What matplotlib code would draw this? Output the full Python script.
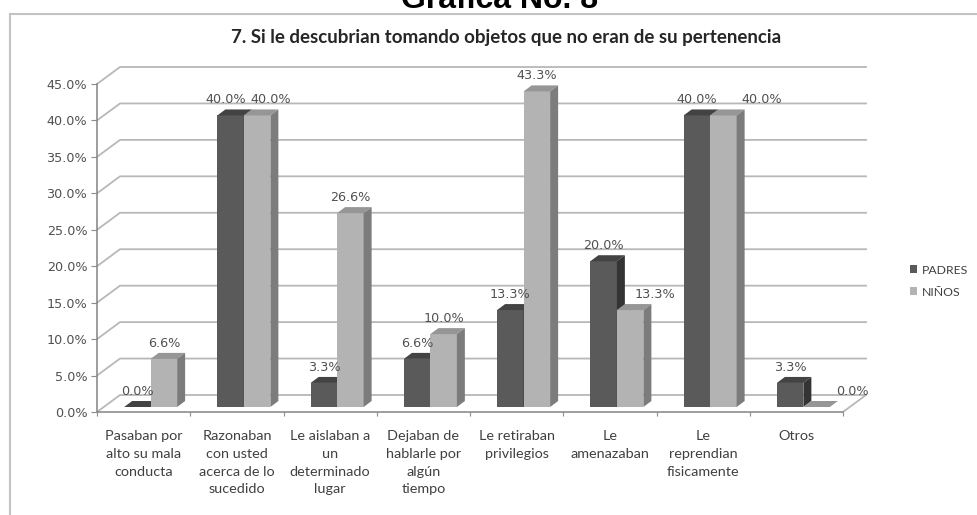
import matplotlib
matplotlib.use("Agg")
import matplotlib.pyplot as plt
from matplotlib.patches import Polygon, Patch, Rectangle

categories = [
    "Pasaban por\nalto su mala\nconducta",
    "Razonaban\ncon usted\nacerca de lo\nsucedido",
    "Le aislaban a\nun\ndeterminado\nlugar",
    "Dejaban de\nhablarle por\nalgún\ntiempo",
    "Le retiraban\nprivilegios",
    "Le\namenazaban",
    "Le\nreprendian\nfisicamente",
    "Otros",
]
padres = [0.0, 40.0, 3.3, 6.6, 13.3, 20.0, 40.0, 3.3]
ninos = [6.6, 40.0, 26.6, 10.0, 43.3, 13.3, 40.0, 0.0]
series_names = ["PADRES", "NIÑOS"]
yticks = [0, 5, 10, 15, 20, 25, 30, 35, 40, 45]

W, H = 977, 515
# pixel geometry of the pseudo 3D plot
x0_px, x1_px = 97, 843      # front floor edge
y0_px, y45_px = 412, 84     # front axis 0% and 45%
wall_dx, wall_dy = 23, 17   # back wall offset (px)
SX = (x1_px - x0_px) / len(categories)
SY = (y0_px - y45_px) / 45.0
DX, DY = wall_dx / SX, wall_dy / SY
front = (7 / SX, 5 / SY)
back = (15 / SX, 11 / SY)
bw = 26.5 / SX

fig = plt.figure(figsize=(W / 100, H / 100), dpi=100)
ax = fig.add_axes([x0_px / W, (H - y0_px) / H,
                   (x1_px + wall_dx - x0_px) / W, (y0_px - (y45_px - wall_dy)) / H])
ax.set_xlim(0, len(categories) + DX)
ax.set_ylim(0, 45 + DY)
for s in ["top", "right"]:
    ax.spines[s].set_visible(False)
grid_c = "#b8b8b8"
ax.spines["left"].set_bounds(0, 45)
ax.spines["bottom"].set_bounds(0, len(categories))
for s in ["left", "bottom"]:
    ax.spines[s].set_color("#8c8c8c")
    ax.spines[s].set_linewidth(1.2)

# back wall gridlines with their diagonals
for t in yticks:
    ax.plot([0, DX, len(categories) + DX], [t, t + DY, t + DY],
            color=grid_c, lw=1.3, zorder=1, clip_on=False)
ax.plot([len(categories), len(categories) + DX], [0, DY], color=grid_c, lw=1.3,
        zorder=1, clip_on=False)

ax.set_yticks(yticks)
ax.set_yticklabels([f"{t:.1f}%" for t in yticks], fontsize=9.2, color="#505050",
                   family="DejaVu Sans")
ax.tick_params(axis="y", length=4, color="#8c8c8c", pad=3)
ax.set_xticks(range(len(categories) + 1))
ax.set_xticklabels([])
ax.tick_params(axis="x", which="major", length=3, color="#8c8c8c")
ax.set_xticks([i + 0.5 for i in range(len(categories))], minor=True)
ax.set_xticklabels(categories, minor=True, fontsize=10.4, color="#404040",
                   family="Lato", linespacing=1.58)
ax.tick_params(axis="x", which="minor", length=0, pad=13)

styles = [
    {"front": "#5a5a5a", "top": "#434343", "side": "#343434"},
    {"front": "#b3b3b3", "top": "#969696", "side": "#7c7c7c"},
]
label_dx = [[0, -5, 0, 0, 0, 0, 0, 0], [0, 14, 0, 0, 0, 25, 38, 36]]

ddx, ddy = back[0] - front[0], back[1] - front[1]
for k, vals in enumerate([padres, ninos]):
    st = styles[k]
    lefts = [i + 0.5 - bw + k * bw + front[0] for i in range(len(vals))]
    ax.bar(lefts, vals, width=bw, bottom=front[1], align="edge",
           color=st["front"], lw=0, zorder=3 + k)
    for i, (xl, v) in enumerate(zip(lefts, vals)):
        yt = front[1] + v
        ax.add_patch(Polygon([(xl, yt), (xl + bw, yt), (xl + bw + ddx, yt + ddy),
                              (xl + ddx, yt + ddy)], closed=True,
                             facecolor=st["top"], lw=0, zorder=3 + k))
        ax.add_patch(Polygon([(xl + bw, front[1]), (xl + bw, yt),
                              (xl + bw + ddx, yt + ddy), (xl + bw + ddx, front[1] + ddy)],
                             closed=True, facecolor=st["side"], lw=0, zorder=3 + k))
        ax.text(xl + bw / 2 + label_dx[k][i] / SX, yt + 9 / SY, f"{v:.1f}%",
                ha="center", va="bottom", fontsize=9.2, color="#505050",
                family="DejaVu Sans", zorder=6)

# legend
handles = [Patch(facecolor=styles[0]["front"]), Patch(facecolor=styles[1]["front"])]
fig.legend(handles, series_names, loc="center left",
           bbox_to_anchor=(899 / W, 1 - 281 / H), frameon=False,
           handlelength=0.6, handleheight=0.6, handletextpad=0.35,
           labelspacing=0.9, prop={"family": "Lato", "size": 8.8},
           labelcolor="#404040")

# chart border and titles
fig.patches.append(Rectangle((9.5 / W, -0.1), 1.2, 1 - 13.5 / H + 0.1,
                             transform=fig.transFigure, fill=False,
                             edgecolor="#c3c3c3", lw=1.5))
fig.text(500 / W, 1 - 8 / H, "Grafica No. 8", ha="center", va="baseline",
         fontsize=23, fontweight="bold", family="Liberation Sans", color="black")
fig.text(506 / W, 1 - 38 / H,
         "7. Si le descubrian tomando objetos que no eran de su pertenencia",
         ha="center", va="center", fontsize=13.5, fontweight="bold",
         family="Lato", color="#262626")

fig.savefig("out.png", dpi=100)
